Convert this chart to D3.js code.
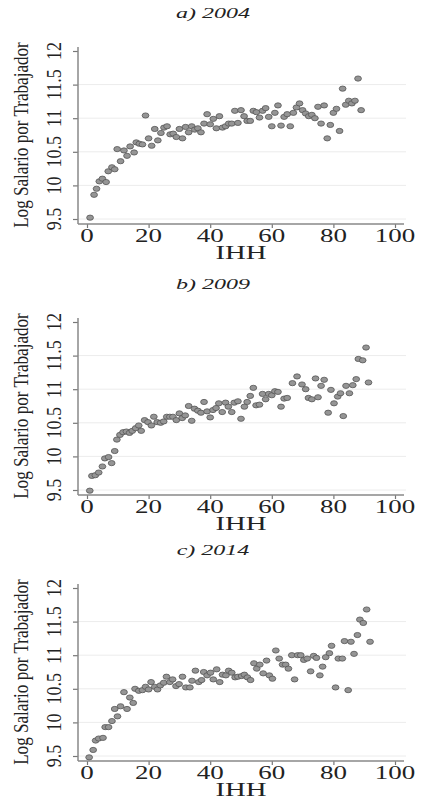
<!DOCTYPE html>
<html><head><meta charset="utf-8">
<script src="https://cdn.jsdelivr.net/npm/d3@7"></script>
<style>
html,body{margin:0;padding:0;background:#fff;}
svg{display:block;}
text{font-family:"Liberation Serif","Times New Roman",serif;fill:#222;}
</style></head>
<body>
<svg id="chart" width="430" height="800"></svg>
<script>
// ---- data ----
const panelTitles = ["a)  2004", "b)  2009", "c)  2014"];
const xTicks = [0, 20, 40, 60, 80, 100];
const yTicks = [9.5, 10, 10.5, 11, 11.5, 12];
const yTickLabels = ["9.5", "10", "10.5", "11", "11.5", "12"];
const xTitle = "IHH";
const yTitle = "Log Salario por Trabajador";

const ihh2004 = [1,2.3,3.1,4,5,6.2,6.9,8.1,9,9.8,10.9,12,13,14,15.3,16,17,18,19,20,21,22,23,24,25,26,27,28,29,30,31,32,33,34,35,36,37,38,39,40,41,42,43,44,45,46,47,48,49,50,51,52,53,54,55,56,57,58,59,60,61,62,63,64,65,66,67,68,69,70,71,72,73,74,75,76,77,78,79,80,81,82,83,84,85,86,87,88,89];
const lw2004 = [9.52,9.86,9.95,10.06,10.1,10.05,10.21,10.27,10.24,10.54,10.36,10.52,10.44,10.58,10.49,10.64,10.62,10.61,11.04,10.7,10.59,10.84,10.67,10.78,10.86,10.88,10.76,10.77,10.72,10.84,10.7,10.87,10.79,10.88,10.83,10.85,10.79,10.92,11.06,10.91,10.99,10.85,11.03,10.86,10.88,10.92,10.92,11.11,10.93,11.12,11.03,10.96,10.96,11.11,11.09,11.01,11.11,11.15,11.02,10.88,11.08,11.19,10.89,11.02,11.06,10.88,11.08,11.16,11.22,11.12,11.07,11.03,11.05,11.0,11.17,10.92,11.19,10.7,10.9,11.08,11.14,10.81,11.44,11.2,11.26,11.22,11.26,11.59,11.12];

const ihh2009 = [0.9,1.6,2.7,3.8,5,5.8,7,8,9,9.7,10.7,11.7,12.8,13.8,14.7,15.8,16.8,17.6,18.7,19.8,20.9,21.7,22.8,23.9,24.9,25.9,26.9,27.9,29,30,30.9,31.9,33,34,34.9,36,37,38,39,40,40.9,41.9,42.8,43.9,45,45.9,47,47.8,49,50,51.1,52,53,54,54.9,56,57,58,59,60,61,62,63,64,65,66.7,68.2,69.8,71,71.9,73,74.2,75,76,77,78.3,79.2,80.2,81.4,82.3,83.2,84.1,85.2,86.3,87.4,88.1,89.5,90.6,91.4];
const lw2009 = [9.49,9.71,9.72,9.76,9.85,9.97,9.99,9.9,10.08,10.25,10.32,10.36,10.37,10.35,10.38,10.42,10.46,10.38,10.54,10.51,10.46,10.59,10.51,10.5,10.52,10.59,10.59,10.59,10.54,10.64,10.57,10.61,10.75,10.53,10.71,10.68,10.65,10.81,10.67,10.58,10.69,10.72,10.79,10.66,10.8,10.74,10.66,10.8,10.82,10.56,10.74,10.81,10.9,11.02,10.76,10.77,10.93,10.85,10.93,10.91,10.97,10.96,10.74,10.86,10.87,11.09,11.19,11.07,11.0,10.87,10.85,11.16,10.88,11.05,11.14,10.65,10.99,10.79,10.89,10.94,10.6,11.05,10.94,11.06,11.15,11.45,11.43,11.62,11.1];

const ihh2014 = [0.7,2,2.8,3.8,5.2,5.9,7,8.1,9,9.9,10.9,12,13,13.9,15,15.6,16.8,18,19,20,20.8,22,22.9,23.8,24.9,25.8,26.9,27.8,28.9,29.9,31,32.1,33.4,34.1,35.2,36.3,37.2,37.9,39,40.1,41,42.1,43.1,44,45.1,46,47,48.1,49,50.2,51.1,52.1,53.1,54.2,55.1,56.1,57.2,58.3,59.2,60.2,61.3,62.4,63.5,64.5,65.4,66.5,67.4,68.4,69.4,70.4,71.5,72.6,73.6,74.5,75.6,76.5,77.5,78.7,79.4,80.7,81.6,82.9,83.6,84.8,85.7,86.7,87.8,88.6,89.7,90.8,91.9];
const lw2014 = [9.48,9.59,9.73,9.76,9.77,9.93,9.93,10.02,10.2,10.09,10.24,10.45,10.2,10.37,10.29,10.5,10.47,10.48,10.53,10.49,10.6,10.53,10.49,10.55,10.59,10.68,10.6,10.64,10.54,10.57,10.68,10.52,10.52,10.62,10.77,10.6,10.63,10.75,10.7,10.74,10.64,10.79,10.6,10.71,10.7,10.77,10.74,10.67,10.68,10.69,10.71,10.67,10.63,10.88,10.8,10.86,10.73,10.92,10.7,10.65,11.07,10.95,10.86,10.86,10.8,11.0,10.64,11.0,11.0,10.93,10.95,10.76,10.99,10.96,10.7,10.83,10.97,11.03,11.14,10.52,10.95,10.95,11.21,10.48,11.2,11.02,11.3,11.53,11.48,11.68,11.2];

const panels = [
  {title: panelTitles[0], xs: ihh2004, ys: lw2004},
  {title: panelTitles[1], xs: ihh2009, ys: lw2009},
  {title: panelTitles[2], xs: ihh2014, ys: lw2014}
];

// ---- layout ----
const offsets = [0, 271, 537];
const svg = d3.select("#chart");
const x = d3.scaleLinear().domain([0, 100]).range([87, 395]);
const y = d3.scaleLinear().domain([9.5, 12]).range([219, 51]);
const axisX0 = 78, axisX1 = 404, axisY = 224;

panels.forEach((p, i) => {
  const g = svg.append("g").attr("transform", `translate(0,${offsets[i]})`);

  // title
  g.append("text")
    .attr("transform", "translate(213,18) scale(1.6,1)")
    .attr("text-anchor", "middle")
    .style("font-style", "italic")
    .style("font-size", "15px")
    .text(p.title);

  // gridlines
  g.append("g").selectAll("line")
    .data(yTicks.filter(t => t < 12))
    .join("line")
    .attr("x1", axisX0).attr("x2", 406)
    .attr("y1", d => y(d)).attr("y2", d => y(d))
    .attr("stroke", "#ececec").attr("stroke-width", 1);

  // y axis
  const yAxis = d3.axisLeft(y).tickValues(yTicks).tickSize(5).tickFormat("");
  const ya = g.append("g").attr("transform", `translate(${axisX0},0)`).call(yAxis);
  ya.select(".domain").remove();
  ya.selectAll(".tick line").attr("stroke", "#777").attr("stroke-width", 1.2);
  g.append("line").attr("x1", axisX0).attr("x2", axisX0)
    .attr("y1", 47).attr("y2", axisY)
    .attr("stroke", "#888").attr("stroke-width", 1.5);
  g.append("g").selectAll("text")
    .data(yTicks)
    .join("text")
    .attr("transform", d => `translate(61,${y(d)}) rotate(-90) scale(0.95,1.05)`)
    .attr("text-anchor", "middle")
    .style("font-size", "19px")
    .text((d, k) => yTickLabels[k]);

  // x axis
  const xAxis = d3.axisBottom(x).tickValues(xTicks).tickSize(4).tickFormat("");
  const xa = g.append("g").attr("transform", `translate(0,${axisY})`).call(xAxis);
  xa.select(".domain").remove();
  xa.selectAll(".tick line").attr("stroke", "#777").attr("stroke-width", 1.2);
  g.append("line").attr("x1", axisX0).attr("x2", axisX1)
    .attr("y1", axisY).attr("y2", axisY)
    .attr("stroke", "#888").attr("stroke-width", 1.5);
  g.append("g").selectAll("text")
    .data(xTicks)
    .join("text")
    .attr("transform", d => `translate(${x(d)},242) scale(1.5,1)`)
    .attr("text-anchor", "middle")
    .style("font-size", "18px")
    .text(d => d);

  // axis titles
  g.append("text")
    .attr("transform", `translate(${x(50)},259) scale(1.6,1)`)
    .attr("text-anchor", "middle")
    .style("font-size", "18px")
    .text(xTitle);
  g.append("text")
    .attr("transform", `translate(28,${(y(9.5)+y(12))/2}) rotate(-90) scale(0.9,1.12)`)
    .attr("text-anchor", "middle")
    .style("font-size", "19px")
    .text(yTitle);

  // points
  g.append("g").selectAll("ellipse")
    .data(p.xs.map((v, k) => [v, p.ys[k]]))
    .join("ellipse")
    .attr("cx", d => x(d[0]))
    .attr("cy", d => y(d[1]))
    .attr("rx", 3.4).attr("ry", 2.6)
    .attr("fill", "#959595")
    .attr("stroke", "#555")
    .attr("stroke-width", 0.8);
});
</script>
</body></html>
